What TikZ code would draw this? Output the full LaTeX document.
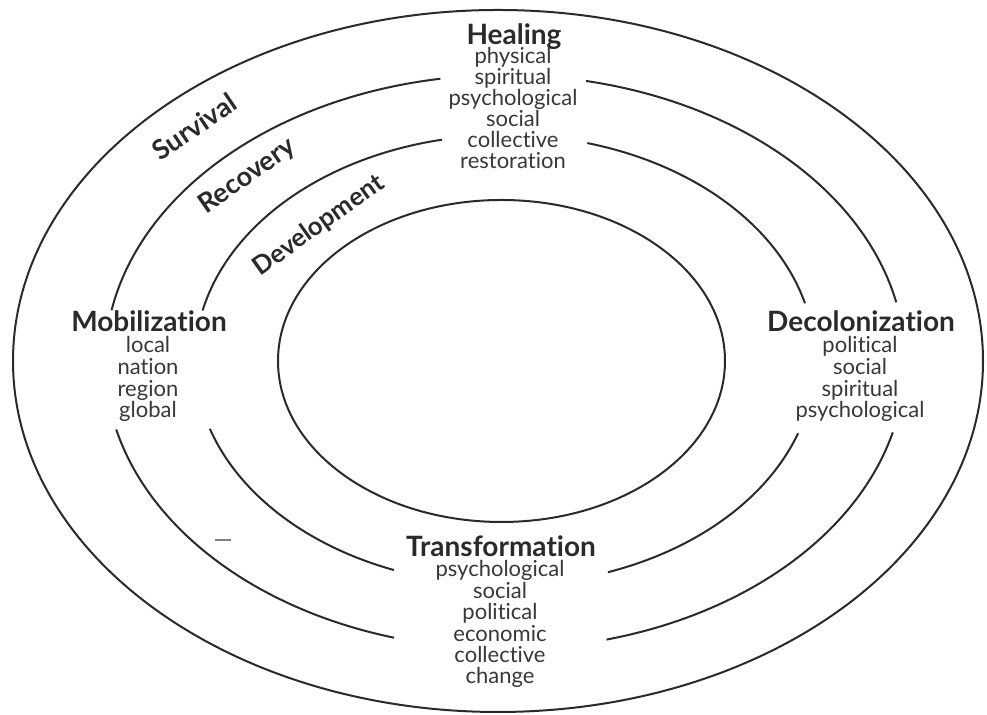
\documentclass[tikz,border=0pt]{standalone}
\usepackage{fontspec}
\setmainfont{Lato}[Ligatures={NoCommon}]
\definecolor{ink}{HTML}{2A2A2A}
\definecolor{subink}{HTML}{383838}
\tikzset{
  ring/.style={draw=ink, line width=1pt},
  head/.style={font=\fontsize{14}{16}\selectfont\bfseries, text=ink, inner sep=0pt, anchor=base,
               text height=10pt, text depth=2.5pt},
  item/.style={font=\fontsize{11}{12}\selectfont, text=subink, inner sep=0pt, anchor=base,
               text height=6.5pt, text depth=2.5pt},
  stage/.style={font=\fontsize{13.5}{15}\selectfont\bfseries, text=ink, inner sep=0pt,
               text height=8pt, text depth=1pt},
}
\begin{document}
\begin{tikzpicture}[x=0.5pt, y=0.5pt]
  \useasboundingbox (0,0) rectangle (987,715);

  % centres of the four rings
  \coordinate (c0) at (498,354);
  \coordinate (c1) at (505,353);
  \coordinate (c2) at (505,355);
  \coordinate (c3) at (501.5,354);

  % outer ring (Survival)
  \draw[ring] (c0) ellipse [x radius=485, y radius=351];

  % second ring (Recovery), broken at the four labels
  \foreach \a/\b in {12/78.3, 99.3/169.6, 193.6/253.9, 284.7/345.8}
    \draw[ring] (c1) ++(\a:400 and 287) arc[start angle=\a, end angle=\b, x radius=400, y radius=287];

  % third ring (Development), broken at the four labels
  \foreach \a/\b in {14.6/74.6, 101.7/167.3, 197.8/249, 289.4/341}
    \draw[ring] (c2) ++(\a:310 and 225) arc[start angle=\a, end angle=\b, x radius=310, y radius=225];

  % inner ring
  \draw[ring] (c3) ellipse [x radius=223.5, y radius=161];

  % stage names along the rings
  \node[stage, rotate=34] (survival) at (196,586) {Survival};
  \node[stage, rotate=35] (recovery) at (248,538) {Recovery};
  \node[stage, rotate=35.5, font=\fontsize{12.8}{14}\selectfont\bfseries] (development) at (319,489) {Development};

  % Healing (top)
  \node[head] (healing) at (514,670) {Healing};
  \foreach \t [count=\i from 0] in {physical,spiritual,psychological,social,collective,restoration}
    \node[item] (heal\i) at (513,651.7-\i*21.14) {\t};

  % Transformation (bottom)
  \node[head] (transformation) at (501,158) {Transformation};
  \foreach \t [count=\i from 0] in {psychological,social,political,economic,collective,change}
    \node[item] (trans\i) at (500,138-\i*21.4) {\t};

  % Mobilization (left)
  \node[head] (mobilization) at (149,383) {Mobilization};
  \foreach \t [count=\i from 0] in {local,nation,region,global}
    \node[item] (mob\i) at (148,362-\i*21.67) {\t};

  % Decolonization (right)
  \node[head] (decolonization) at (861,383) {Decolonization};
  \foreach \t [count=\i from 0] in {political,social,spiritual,psychological}
    \node[item] (decol\i) at (860,362-\i*21.67) {\t};

  % small stray stroke on the lower left
  \draw[gray, line width=0.8pt] (215,175) -- (231,175);
\end{tikzpicture}
\end{document}
